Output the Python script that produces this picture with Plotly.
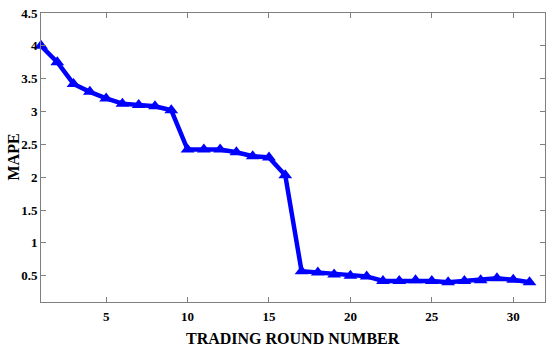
import plotly.graph_objects as go

# MAPE per trading round
rounds = list(range(1, 32))
mape = [4.0, 3.75, 3.42, 3.3, 3.2, 3.12, 3.1, 3.08, 3.02, 2.42,
        2.42, 2.42, 2.38, 2.32, 2.3, 2.03, 0.57, 0.55, 0.52, 0.5,
        0.49, 0.42, 0.42, 0.43, 0.42, 0.4, 0.42, 0.43, 0.46, 0.44, 0.4]

x_ticks = [5, 10, 15, 20, 25, 30]
y_ticks = [0.5, 1, 1.5, 2, 2.5, 3, 3.5, 4, 4.5]

fig = go.Figure(
    go.Scatter(
        x=rounds,
        y=mape,
        mode="lines+markers",
        line=dict(color="#0000ff", width=4.5),
        marker=dict(symbol="triangle-up", size=12, color="#0000ff"),
        cliponaxis=False,
    )
)

tick_font = dict(family="Liberation Serif", size=13, color="black", weight="bold")
title_font = dict(family="Liberation Serif", size=16, color="black", weight="bold")

axis_style = dict(
    showline=True,
    linecolor="#7f7f7f",
    linewidth=1,
    mirror="ticks",
    ticks="inside",
    ticklen=5,
    tickcolor="#7f7f7f",
    showgrid=False,
    zeroline=False,
    automargin=False,
    ticklabeloverflow="allow",
    tickfont=tick_font,
)

fig.update_xaxes(range=[1, 31.95], tickvals=x_ticks, ticklabelstandoff=2, **axis_style)
fig.update_yaxes(
    range=[0.1, 4.5],
    tickvals=y_ticks,
    ticktext=[f"{v:g}" for v in y_ticks],
    **axis_style,
)

# axis titles as annotations so they can be placed exactly
fig.add_annotation(text="TRADING ROUND NUMBER", xref="paper", yref="paper",
                   x=0.5, y=0, yanchor="middle", yshift=-36,
                   showarrow=False, font=title_font)
fig.add_annotation(text="MAPE", xref="paper", yref="paper",
                   x=0, y=0.5, xanchor="center", xshift=-28, textangle=-90,
                   showarrow=False, font=title_font)

fig.update_layout(
    width=550,
    height=350,
    margin=dict(l=41, r=5, t=13, b=48),
    plot_bgcolor="white",
    paper_bgcolor="white",
    showlegend=False,
)

# drop the default 8px body margin so the figure fills the window
fig.write_html(
    "out.html",
    config={"displayModeBar": False},
    post_script="document.body.style.margin='0';",
)
